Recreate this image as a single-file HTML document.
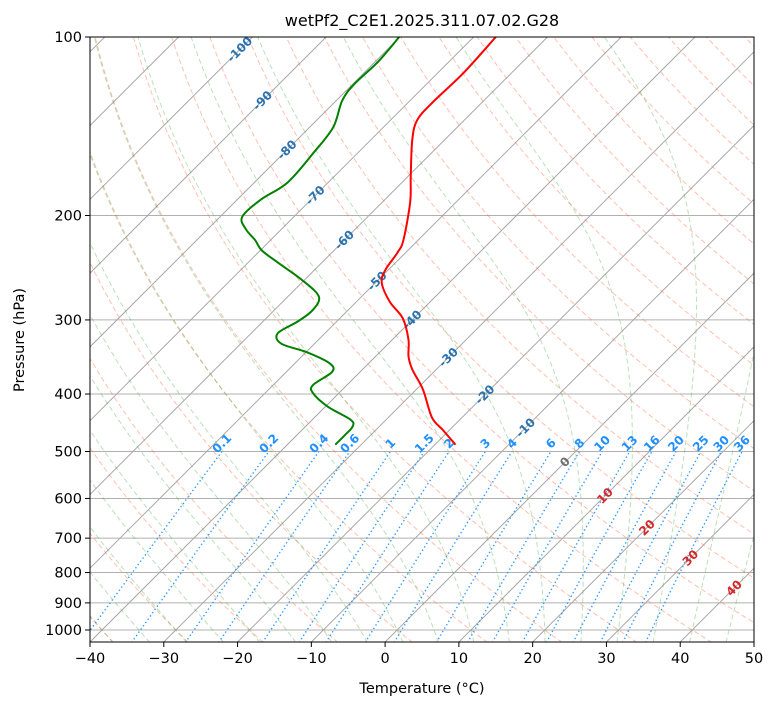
<!DOCTYPE html>
<html><head><meta charset="utf-8"><style>
html,body{margin:0;padding:0;background:#fff;}
svg text{font-family:"DejaVu Sans","Liberation Sans",sans-serif;}
</style></head><body>
<svg id="chart" width="775" height="708" viewBox="0 0 775 708" xmlns="http://www.w3.org/2000/svg">
<defs><clipPath id="plotclip"><rect x="90" y="37" width="664" height="605"/></clipPath></defs>
<text x="422" y="26" font-size="16" text-anchor="middle">wetPf2_C2E1.2025.311.07.02.G28</text>
<g id="plot" clip-path="url(#plotclip)"></g>
<g id="labels"></g>
<g id="profiles" clip-path="url(#plotclip)"></g>
<rect x="90" y="37" width="664" height="605" fill="none" stroke="#000" stroke-width="1"/>
<g id="axes"></g>
<text x="422" y="693" font-size="14.5" text-anchor="middle">Temperature (°C)</text>
<text x="24" y="340" font-size="14.5" text-anchor="middle" transform="rotate(-90 24 340)">Pressure (hPa)</text>
</svg>
<script>
// ---- data ----
const tempP = [100,115,129,138,149,172,190,220,231,247,260,280,298,324,346,364,393,438,460,487];
const tempT = [-67.0,-66.5,-66.7,-66.4,-64.4,-59.6,-56.2,-52.0,-51.1,-50.4,-49.1,-45.4,-41.5,-37.8,-35.5,-33.2,-29.1,-24.1,-20.9,-17.2];
const dewP = [100,110,120,128,142,157,176,188,201,211,220,229,240,257,274,289,302,316,329,340,355,367,386,398,420,442,454,469,487];
const dewT = [-80.1,-79.6,-79.8,-79.2,-76.8,-76.0,-75.5,-76.8,-77.0,-74.8,-72.1,-69.8,-66.0,-60.3,-55.8,-54.8,-55.3,-56.4,-54.5,-49.9,-45.3,-43.8,-44.6,-43.6,-39.7,-34.8,-33.6,-33.5,-33.5];
const xTicks = [-40,-30,-20,-10,0,10,20,30,40,50];
const yTicks = [100,200,300,400,500,600,700,800,900,1000];
const mixRatios = [0.1,0.2,0.4,0.6,1,1.5,2,3,4,6,8,10,13,16,20,25,30,36];
const mixLabels = ["0.1","0.2","0.4","0.6","1","1.5","2","3","4","6","8","10","13","16","20","25","30","36"];
const isoLabelT = [-100,-90,-80,-70,-60,-50,-40,-30,-20,-10,0,10,20,30,40];
const isoLabelP = [105,128,155,185,220,258,300,347,401,456,521,594,672,756,850];

// ---- axes functions ----
const X0=90,X1=754,Y0=37,Y1=642,TMIN=-40,TMAX=50,PTOP=100,PBOT=1050;
const PXPERDEC=593;
function yP(p){return Y0+PXPERDEC*Math.log10(p/PTOP);}
function xT(t,p){const y=yP(p);return X0+(t-TMIN)*(X1-X0)/(TMAX-TMIN)+(Y1-y);}
const NS="http://www.w3.org/2000/svg";
function el(tag,attrs,parent){const e=document.createElementNS(NS,tag);for(const k in attrs)e.setAttribute(k,attrs[k]);parent.appendChild(e);return e;}
const plot=document.getElementById('plot'),labels=document.getElementById('labels'),axes=document.getElementById('axes'),profiles=document.getElementById('profiles');
function pathFrom(ps,ts){let d='';for(let i=0;i<ps.length;i++){d+=(i?'L':'M')+xT(ts[i],ps[i]).toFixed(2)+','+yP(ps[i]).toFixed(2);}return d;}
function smoothFrom(ps,ts){
  const pts=ps.map((p,i)=>[xT(ts[i],p),yP(p)]);
  let d='M'+pts[0][0].toFixed(2)+','+pts[0][1].toFixed(2);
  for(let i=0;i<pts.length-1;i++){
    const p0=pts[Math.max(0,i-1)],p1=pts[i],p2=pts[i+1],p3=pts[Math.min(pts.length-1,i+2)];
    const c1=[p1[0]+(p2[0]-p0[0])/6,p1[1]+(p2[1]-p0[1])/6];
    const c2=[p2[0]-(p3[0]-p1[0])/6,p2[1]-(p3[1]-p1[1])/6];
    d+='C'+c1[0].toFixed(2)+','+c1[1].toFixed(2)+' '+c2[0].toFixed(2)+','+c2[1].toFixed(2)+' '+p2[0].toFixed(2)+','+p2[1].toFixed(2);
  }
  return d;
}
const pres=[];for(let i=0;i<=100;i++)pres.push(PBOT-(PBOT-PTOP)*i/100);

yTicks.forEach(p=>{
  const l=el('line',{x1:X0,x2:X1,y1:yP(p),y2:yP(p),stroke:'#b0b0b0','stroke-width':1},plot);
  
  
});
for(let t=-160;t<=50;t+=10){
  const l=el('path',{d:pathFrom([PBOT,PTOP],[t,t]),stroke:'#a8a8a8','stroke-width':1,fill:'none'},plot);
  
  
}
for(let t0=-40;t0<=250;t0+=10){
  const ts=pres.map(p=>(t0+273.15)*Math.pow(p/1000,0.2857)-273.15);
  const l=el('path',{d:pathFrom(pres,ts),stroke:'#ff6a3d','stroke-opacity':0.42,'stroke-width':1,fill:'none','stroke-dasharray':'5,3'},plot);
  
  
}
function es(tc){return 6.112*Math.exp(17.67*tc/(tc+243.5));}
function dTdp(T,p){const Rd=287.04,Lv=2.501e6,Cp=1005.7,eps=0.622;const e=es(T-273.15);const rs=eps*e/(p-e);
  return ((Rd*T+Lv*rs)/(Cp+Lv*Lv*rs*eps/(Rd*T*T)))/p;}
function moist(t0){
  const up=[],down=[];let T=t0+273.15,p=1000;const n=200;const dp=(1000-PTOP)/n;
  up.push([p,T]);
  for(let i=0;i<n;i++){const k1=dTdp(T,p),k2=dTdp(T-dp/2*k1,p-dp/2),k3=dTdp(T-dp/2*k2,p-dp/2),k4=dTdp(T-dp*k3,p-dp);T-=dp*(k1+2*k2+2*k3+k4)/6;p-=dp;up.push([p,T]);}
  T=t0+273.15;p=1000;const dd=(PBOT-1000)/10;
  for(let i=0;i<10;i++){const k1=dTdp(T,p);T+=dd*k1;p+=dd;down.push([p,T]);}
  const all=down.reverse().concat(up);
  return [all.map(a=>a[0]),all.map(a=>a[1]-273.15)];
}
for(let t0=-40;t0<=50;t0+=5){
  const m=moist(t0);
  const l=el('path',{d:pathFrom(m[0],m[1]),stroke:'#2ca02c','stroke-opacity':0.32,'stroke-width':1,fill:'none','stroke-dasharray':'5,3'},plot);
  
  
}
function tdFromW(w,p){const e=w*p/(622+w);const g=Math.log(e/6.112);return 243.5*g/(17.67-g);}
const mixP=[];for(let i=0;i<=20;i++)mixP.push(PBOT-(PBOT-500)*i/20);
mixRatios.forEach((w,i)=>{
  const l=el('path',{d:pathFrom(mixP,mixP.map(p=>tdFromW(w,p))),stroke:'#1e90ff','stroke-opacity':0.9,'stroke-width':1.4,fill:'none','stroke-dasharray':'1.4,2.6'},plot);
  
  
  const x=xT(tdFromW(w,500),500),y=yP(500)-8;
  if(x>X0&&x<X1+5){
    const t=el('text',{x:x,y:y+4,'font-size':12,'font-weight':'bold',fill:'#1e90ff','text-anchor':'middle',transform:`rotate(-45 ${x} ${y})`},labels);
    t.textContent=mixLabels[i];
    
    
  }
});
isoLabelT.forEach((t,i)=>{
  const p=isoLabelP[i];const x=xT(t,p),y=yP(p);
  const col=t<0?'#2b72b0':(t===0?'#707070':'#d62728');
  const tx=el('text',{x:x,y:y+4,'font-size':12,'font-weight':'bold',fill:col,'text-anchor':'middle',transform:`rotate(-45 ${x} ${y})`},labels);
  tx.textContent=String(t);
  
  
});
const tl=el('path',{d:smoothFrom(tempP,tempT),stroke:'#ff0000','stroke-width':2,fill:'none','stroke-linejoin':'round'},profiles);


const dl=el('path',{d:smoothFrom(dewP,dewT),stroke:'#008000','stroke-width':2,fill:'none','stroke-linejoin':'round'},profiles);


xTicks.forEach(t=>{
  const x=X0+(t-TMIN)*(X1-X0)/(TMAX-TMIN);
  const tk=el('line',{x1:x,x2:x,y1:Y1,y2:Y1+5,stroke:'#000'},axes);
  
  
  const lb=el('text',{x:x,y:Y1+21,'font-size':14.5,'text-anchor':'middle'},axes);
  lb.textContent=(t<0?'\u2212':'')+Math.abs(t);
  
  
});
yTicks.forEach(p=>{
  const y=yP(p);
  const tk=el('line',{x1:X0-5,x2:X0,y1:y,y2:y,stroke:'#000'},axes);
  
  
  const lb=el('text',{x:X0-8,y:y+5,'font-size':14.5,'text-anchor':'end'},axes);
  lb.textContent=String(p);
  
  
});
</script>
</body></html>
